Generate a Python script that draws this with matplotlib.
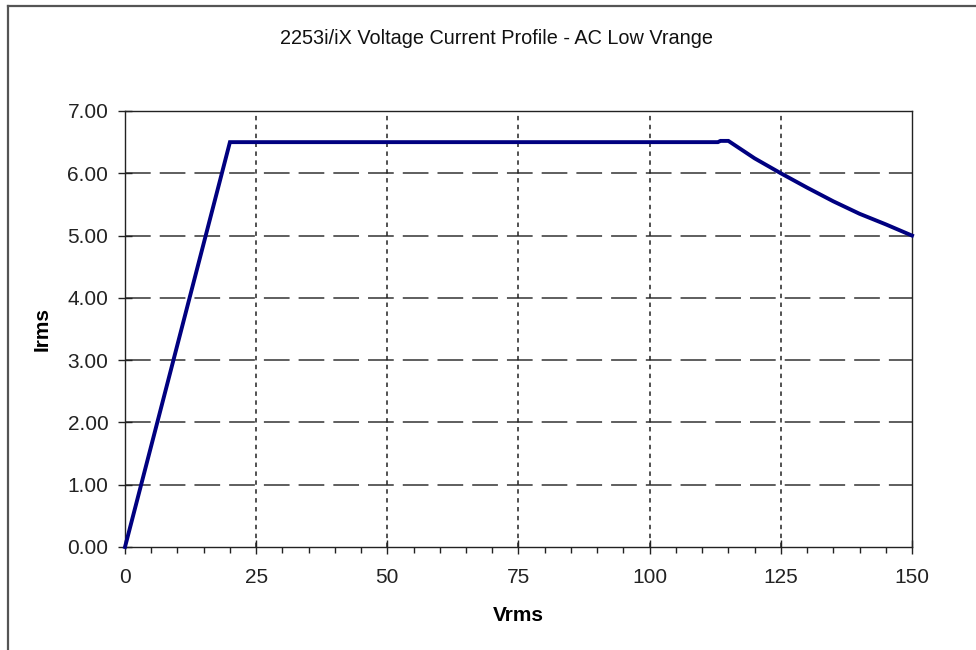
import matplotlib
matplotlib.use('Agg')
import matplotlib.pyplot as plt
from matplotlib.lines import Line2D
from matplotlib.ticker import MultipleLocator, FormatStrFormatter

plt.rcParams['font.family'] = ['Liberation Sans', 'DejaVu Sans']
plt.rcParams['lines.scale_dashes'] = False

# Voltage / current profile
vrms = [0, 20, 113, 113.5, 115, 120, 125, 130, 135, 140, 145, 150]
irms = [0, 6.50, 6.50, 6.52, 6.52, 6.24, 6.00, 5.77, 5.55, 5.35, 5.18, 5.00]

x_ticks = [0, 25, 50, 75, 100, 125, 150]
y_ticks = [0, 1, 2, 3, 4, 5, 6, 7]

W, H = 976, 650
fig = plt.figure(figsize=(W / 100, H / 100), dpi=100)

# outer frame: only top and left edges visible in the picture
fig.add_artist(Line2D([8 / W, 1.0], [1 - 6 / H, 1 - 6 / H], transform=fig.transFigure,
                      color='#555555', linewidth=1.6))
fig.add_artist(Line2D([8 / W, 8 / W], [0, 1 - 6 / H], transform=fig.transFigure,
                      color='#555555', linewidth=1.6))

ax = fig.add_axes([125 / W, (H - 547) / H, (912 - 125) / W, (547 - 111) / H])

# grid lines
for y in y_ticks[1:-1]:
    ax.axhline(y, color='#333333', linewidth=1.1, linestyle=(0, (18.5, 6.5)), zorder=1)
for x in x_ticks[1:-1]:
    ax.axvline(x, color='#222222', linewidth=1.1, linestyle=(0, (3.2, 3.2)), zorder=1)

ax.plot(vrms, irms, color='#000080', linewidth=2.8, solid_joinstyle='miter', zorder=3,
        clip_on=False)

ax.set_xlim(0, 150)
ax.set_ylim(0, 7)
ax.set_xticks(x_ticks)
ax.set_yticks(y_ticks)
ax.xaxis.set_minor_locator(MultipleLocator(5))
ax.yaxis.set_major_formatter(FormatStrFormatter('%.2f'))

ax.tick_params(axis='both', which='major', direction='inout', length=10, width=1,
               color='#222222', labelsize=15, labelcolor='#222222')
ax.tick_params(axis='x', which='major', pad=10)
ax.tick_params(axis='y', which='major', pad=7)
ax.tick_params(axis='x', which='minor', direction='out', length=4.5, width=1, color='#222222')

for side in ['top', 'right', 'left', 'bottom']:
    ax.spines[side].set_color('#222222')
    ax.spines[side].set_linewidth(1.0)

ax.set_xlabel('Vrms', fontsize=15, fontweight='bold', labelpad=14)
ax.set_ylabel('Irms', fontsize=15, fontweight='bold', labelpad=11)

fig.text(497 / W, 1 - 39 / H, '2253i/iX Voltage Current Profile - AC Low Vrange',
         ha='center', va='center', fontsize=14.3, color='#111111')

fig.savefig('out.png', dpi=100)
